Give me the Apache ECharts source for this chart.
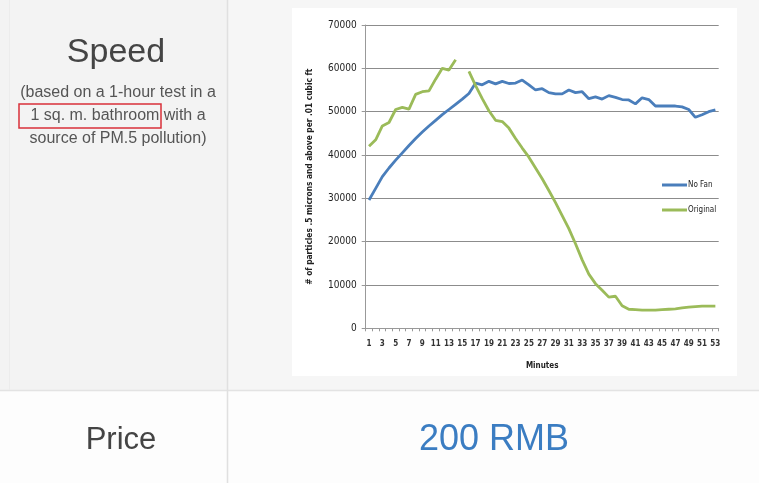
<!DOCTYPE html>
<html>
<head>
<meta charset="utf-8">
<script src="https://cdn.jsdelivr.net/npm/echarts@6/dist/echarts.min.js"></script>
<style>
html,body{margin:0;padding:0;background:#ffffff;}
#main{width:759px;height:483px;}
</style>
</head>
<body>
<div id="main"></div>
<script>
var minutes = [];
for (var m = 1; m <= 53; m++) minutes.push(String(m));

var noFan = [29600,32300,35000,37000,38800,40500,42200,43800,45300,46700,
  48000,49300,50500,51700,52900,54200,56600,56200,57000,56400,
  57000,56500,56600,57300,56200,55000,55300,54400,54100,54100,
  55000,54400,54600,53000,53400,52900,53700,53300,52800,52700,
  51800,53200,52800,51300,51300,51300,51300,51100,50500,48700,
  49300,50000,50400];

var original = [42000,43500,46700,47500,50500,51000,50600,54000,54600,54800,
  57500,60000,59600,62000,null,59300,56000,53000,50200,48000,
  47700,46200,43800,41600,39500,37000,34500,31800,29000,26000,
  23000,19500,15800,12500,10300,8800,7200,7400,5200,4400,
  4300,4200,4200,4200,4300,4400,4500,4700,4900,5000,
  5100,5100,5100];

var seriesNames = ['No Fan', 'Original'];
var yAxisName = '# of particles .5 microns and above per .01 cubic ft';
var xAxisName = 'Minutes';
var rowTitle = 'Speed';
var rowNote = ['(based on a 1-hour test in a', '1 sq. m. bathroom with a', 'source of PM.5 pollution)'];
var priceLabel = 'Price';
var priceValue = '200 RMB';

var chart = echarts.init(document.getElementById('main'), null, {renderer: 'canvas'});
var font = 'Liberation Sans, Arial, sans-serif';
var chartFont = 'DejaVu Sans Condensed, DejaVu Sans, sans-serif';

var option = {
  backgroundColor: '#ffffff',
  animation: false,
  graphic: [
    {type: 'rect', z: -10, shape: {x: 0, y: 0, width: 228, height: 390}, style: {fill: '#f3f3f3'}},
    {type: 'rect', z: -10, shape: {x: 228, y: 0, width: 531, height: 390}, style: {fill: '#f6f6f6'}},
    {type: 'rect', z: -9, shape: {x: 292, y: 8, width: 445, height: 368}, style: {fill: '#ffffff'}},
    {type: 'rect', z: -10, shape: {x: 0, y: 390, width: 759, height: 93}, style: {fill: '#fdfdfd'}},
    {type: 'line', z: -8, shape: {x1: 0, y1: 390.5, x2: 759, y2: 390.5}, style: {stroke: '#e3e3e3', lineWidth: 1.5}},
    {type: 'line', z: -8, shape: {x1: 227.5, y1: 0, x2: 227.5, y2: 483}, style: {stroke: '#e0e0e0', lineWidth: 1.5}},
    {type: 'line', z: -8, shape: {x1: 9.5, y1: 0, x2: 9.5, y2: 390}, style: {stroke: '#ececec', lineWidth: 1}},
    {type: 'text', x: 116, y: 53, style: {text: rowTitle, textAlign: 'center', textVerticalAlign: 'middle', font: '34px ' + font, fill: '#444444'}},
    {type: 'text', x: 118, y: 93, style: {text: rowNote[0], textAlign: 'center', textVerticalAlign: 'middle', font: '16px ' + font, fill: '#555555'}},
    {type: 'text', x: 118, y: 116, style: {text: rowNote[1], textAlign: 'center', textVerticalAlign: 'middle', font: '16px ' + font, fill: '#555555'}},
    {type: 'text', x: 118, y: 139, style: {text: rowNote[2], textAlign: 'center', textVerticalAlign: 'middle', font: '16px ' + font, fill: '#555555'}},
    {type: 'rect', shape: {x: 19, y: 104, width: 142, height: 24}, style: {fill: 'none', stroke: '#d9303a', lineWidth: 1.5}},
    {type: 'text', x: 121, y: 440, style: {text: priceLabel, textAlign: 'center', textVerticalAlign: 'middle', font: '31px ' + font, fill: '#444444'}},
    {type: 'text', x: 494, y: 440, style: {text: priceValue, textAlign: 'center', textVerticalAlign: 'middle', font: '36px ' + font, fill: '#3b7dc2'}}
  ],
  grid: {left: 365.7, right: 40.3, top: 25, bottom: 154.7, containLabel: false},
  legend: {
    orient: 'vertical',
    left: 657,
    top: 176,
    itemWidth: 25,
    itemHeight: 3,
    itemGap: 17,
    icon: 'rect',
    textStyle: {fontSize: 8, fontFamily: chartFont, color: '#222', padding: [0, 0, 0, -4]},
    data: seriesNames
  },
  xAxis: {
    type: 'category',
    data: minutes,
    boundaryGap: true,
    name: xAxisName,
    nameLocation: 'middle',
    nameGap: 34,
    nameTextStyle: {fontSize: 8, fontWeight: 'bold', fontFamily: chartFont, color: '#222'},
    axisLine: {lineStyle: {color: '#999', width: 1}},
    axisTick: {show: true, alignWithLabel: false, interval: 0, length: 3, lineStyle: {color: '#999'}},
    axisLabel: {interval: 1, fontSize: 8, fontWeight: 'bold', fontFamily: chartFont, color: '#333', margin: 12}
  },
  yAxis: {
    type: 'value',
    min: 0,
    max: 70000,
    interval: 10000,
    name: yAxisName,
    nameLocation: 'middle',
    nameGap: 52,
    nameRotate: 90,
    nameTextStyle: {fontSize: 8.3, fontWeight: 'bold', fontFamily: chartFont, color: '#222'},
    axisLine: {show: true, lineStyle: {color: '#999', width: 1}},
    axisTick: {show: true, length: 4, lineStyle: {color: '#999'}},
    axisLabel: {fontSize: 10, fontFamily: chartFont, color: '#222', margin: 9, formatter: function (v) { return String(v); }},
    splitLine: {lineStyle: {color: '#8c8c8c', width: 1}}
  },
  series: [
    {name: seriesNames[0], type: 'line', data: noFan, symbol: 'none', connectNulls: false,
     lineStyle: {color: '#4a7ebb', width: 2.8}, itemStyle: {color: '#4a7ebb'}},
    {name: seriesNames[1], type: 'line', data: original, symbol: 'none', connectNulls: false,
     lineStyle: {color: '#9bbb59', width: 2.8}, itemStyle: {color: '#9bbb59'}}
  ]
};
chart.setOption(option);
</script>
</body>
</html>
